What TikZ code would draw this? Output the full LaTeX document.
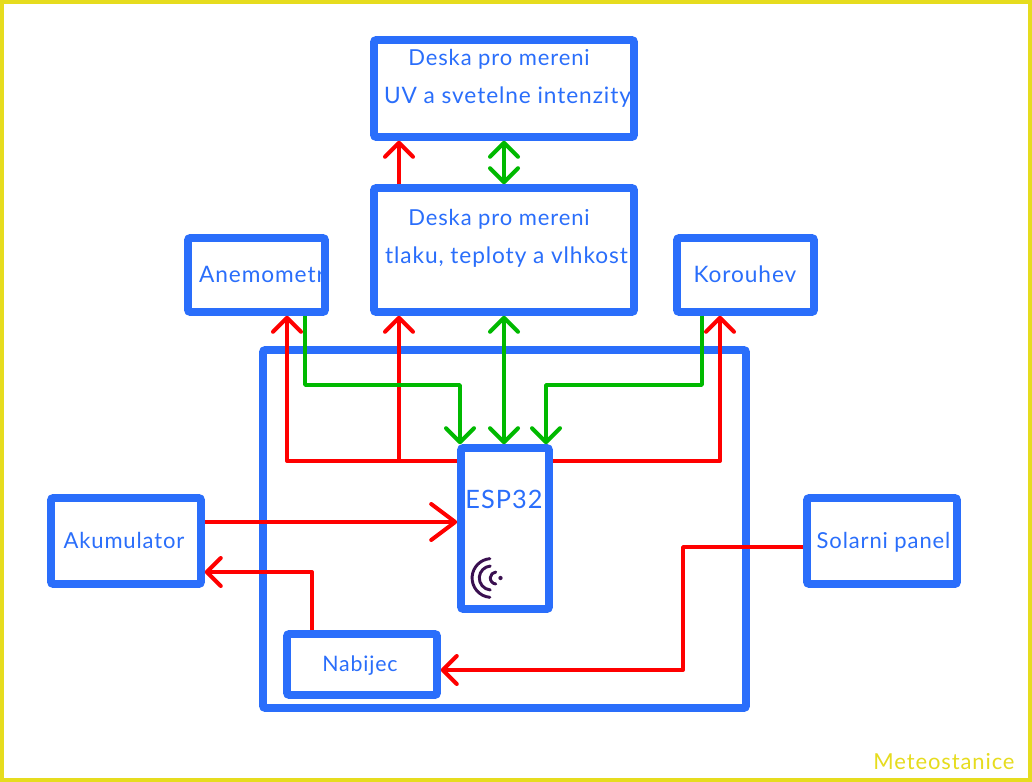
\documentclass[tikz,border=0pt]{standalone}
\usepackage{fontspec}
\setmainfont[LetterSpace=4]{Lato}
\usetikzlibrary{arrows.meta,calc}
\definecolor{boxblue}{HTML}{2A6EFB}
\definecolor{wirered}{HTML}{FF0000}
\definecolor{wiregreen}{HTML}{00B900}
\definecolor{frameyellow}{HTML}{E6DC1E}
\definecolor{iconpurple}{HTML}{3A1050}
\tikzset{
  x=0.75pt,y=-0.75pt,
  boxnode/.style={draw=boxblue,line width=5.7pt,rounded corners=1.5pt,fill=white,inner sep=0pt,outer sep=2.85pt},
  lbl/.style={text=boxblue,font=\fontsize{16.5}{20}\selectfont,inner sep=0pt,anchor=center},
  lblwide/.style={lbl,font=\fontsize{17}{20}\selectfont},
  lblbig/.style={lbl,font=\fontsize{19}{22}\selectfont},
  barbtip/.tip={Straight Barb[length=10.5pt,width=21pt,line width=3pt,round]},
  bigbarbtip/.tip={Straight Barb[length=18pt,width=27pt,line width=3pt,round]},
  head/.style={-barbtip},
  bighead/.style={-bigbarbtip},
  bothheads/.style={barbtip-barbtip},
  redwire/.style={draw=wirered,line width=2.9pt,line join=round},
  greenwire/.style={draw=wiregreen,line width=2.6pt,line join=round},
  iconarc/.style={draw=iconpurple,line width=2.2pt,line cap=round}
}
\begin{document}
\begin{tikzpicture}
\useasboundingbox (0,0) rectangle (1032,782);
\fill[white] (0,0) rectangle (1032,782);
\draw[frameyellow,line width=3pt] (2,2) rectangle (1030,780);

\newcommand{\boxat}[5]{\node[boxnode,minimum width=#4*0.75pt,minimum height=#5*0.75pt] (#1) at (#2,#3) {};}
\boxat{main}{504.5}{529}{483}{358}
\boxat{uv}{504}{88.5}{260}{97}
\boxat{press}{504}{250}{260}{124}
\boxat{anem}{256.5}{275}{137}{74}
\boxat{koro}{745.5}{275}{137}{74}
\boxat{esp}{505}{528.5}{88}{161}
\boxat{akum}{126}{541}{150}{86}
\boxat{solar}{882}{541}{150}{86}
\boxat{nab}{362}{664.5}{150}{61}

\node[lbl] (t1) at (499,59.5) {Deska pro mereni};
\node[lblwide] (t2) at (507.5,97) {UV a svetelne intenzity};
\node[lbl] (t3) at (499,219.5) {Deska pro mereni};
\node[lblwide] (t4) at (506.5,257) {tlaku, teploty a vlhkost};
\node[lblwide] (t5) at (262,274) {Anemometr};
\node[lblwide] (t6) at (745,274) {Korouhev};
\node[lblbig] (t7) at (504,499) {ESP32};
\node[lbl] (t8) at (124,540) {Akumulator};
\node[lbl] (t9) at (883.5,542) {Solarni panel};
\node[lbl,font=\fontsize{16}{20}\selectfont] (t10) at (360,666) {Nabijec};
\node[lbl,text=frameyellow] (t11) at (944,762) {Meteostanice};

\coordinate (junction) at (399,461);

% red wires
\draw[redwire,head] ($(press.north)+(-105,0)$) -- ($(uv.south)+(-105,0)$);
\draw[redwire,head] (esp.west|-junction) -- (287,461) -- ($(anem.south)+(30.5,0)$);
\draw[redwire,head] (junction) -- (junction|-press.south);
\draw[redwire,head] (esp.east|-junction) -- (720,461) -- ($(koro.south)+(-25.5,0)$);
\draw[redwire,bighead] ($(akum.east)+(0,-19)$) -- ($(esp.west)+(0,-6.5)$);
\draw[redwire,head] ($(nab.north)+(-50,0)$) -- (312,572) -- ($(akum.east)+(0,31)$);
\draw[redwire,head] ($(solar.west)+(0,6)$) -- (683,547) -- (683,670) -- ($(nab.east)+(0,5.5)$);

% green wires
\draw[greenwire,bothheads] (press.north) -- (uv.south);
\draw[greenwire,bothheads] (press.south) -- (press.south|-esp.north);
\draw[greenwire,head] ($(anem.south)+(48.5,0)$) -- (305,385) -- (460,385) -- ($(esp.north)+(-45,0)$);
\draw[greenwire,head] ($(koro.south)+(-43.5,0)$) -- (702,385) -- (546,385) -- ($(esp.north)+(41,0)$);

% contactless icon
\fill[iconpurple] (500.5,578) circle (1.6pt);
\draw[iconarc] (496.3,578) ++(95:6) arc[start angle=95,end angle=265,radius=6];
\draw[iconarc] (491.3,578) ++(95:12) arc[start angle=95,end angle=265,radius=12];
\draw[iconarc] (491.5,578) ++(95:19.4) arc[start angle=95,end angle=265,radius=19.4];
\end{tikzpicture}
\end{document}
